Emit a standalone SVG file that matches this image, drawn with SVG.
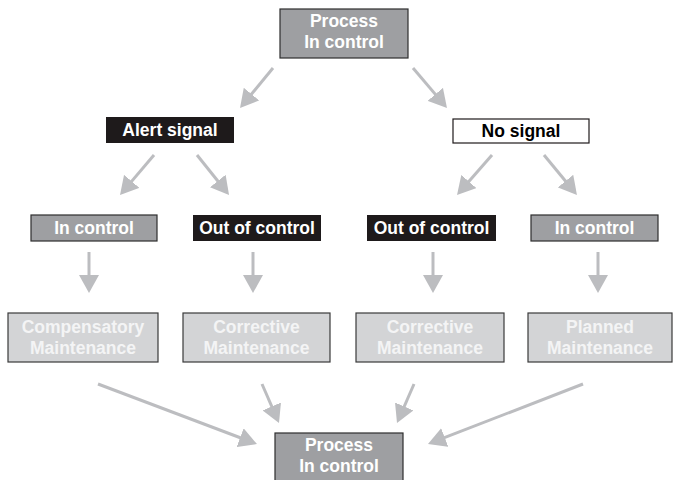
<svg xmlns="http://www.w3.org/2000/svg" width="673" height="480" viewBox="0 0 673 480">
<style>
.t{font-family:"Liberation Sans",Arial,sans-serif;font-weight:bold;font-size:17.5px;text-anchor:middle}
.w{fill:#ffffff}
.k{fill:#000000}
.lw{fill:#f4f4f5}
.dg{fill:#9e9fa2;stroke:#2e2e2e;stroke-width:1.2}
.lg{fill:#d3d4d6;stroke:#3a3a3a;stroke-width:1.2}
.bk{fill:#1e1a1b}
.wb{fill:#ffffff;stroke:#1e1a1b;stroke-width:1.2}
.c line{stroke:#bcbdc0;stroke-width:3;marker-end:url(#ah)}
</style>
<defs>
<marker id="ah" viewBox="0 0 18 20" refX="8" refY="10" markerWidth="18" markerHeight="20" markerUnits="userSpaceOnUse" orient="auto">
<path d="M0,0 L18,10 L0,20 Z" fill="#bcbdc0"/>
</marker>
</defs>
<rect width="673" height="480" fill="#ffffff"/>
<g id="connectors" class="c">
<line x1="273" y1="68" x2="246.4" y2="100.3"/>
<line x1="413" y1="68" x2="440.5" y2="100.4"/>
<line x1="154" y1="155" x2="126.5" y2="187.4"/>
<line x1="197" y1="155" x2="222.8" y2="187.2"/>
<line x1="492" y1="155" x2="463.6" y2="187.5"/>
<line x1="544" y1="155" x2="570.6" y2="187.3"/>
<line x1="89" y1="252" x2="89" y2="283"/>
<line x1="253" y1="252" x2="253" y2="283"/>
<line x1="433" y1="252" x2="433" y2="283"/>
<line x1="598" y1="252" x2="598" y2="283"/>
<line x1="98" y1="384" x2="247.6" y2="440.5"/>
<line x1="262" y1="384" x2="275" y2="413.8"/>
<line x1="414" y1="384" x2="401" y2="413.8"/>
<line x1="583" y1="384" x2="437.3" y2="440.4"/>
</g>
<g id="process-top">
<rect class="dg" x="280" y="9" width="128" height="49"/>
<text class="t w" x="344" y="27">Process</text>
<text class="t w" x="344" y="48">In control</text>
</g>
<g id="alert-signal">
<rect class="bk" x="106" y="117" width="128" height="26"/>
<text class="t w" x="170" y="136">Alert signal</text>
</g>
<g id="no-signal">
<rect class="wb" x="453" y="119" width="136" height="24"/>
<text class="t k" x="521" y="137">No signal</text>
</g>
<g id="in-control-left">
<rect class="dg" x="31" y="215" width="126" height="26"/>
<text class="t w" x="94" y="234">In control</text>
</g>
<g id="out-of-control-left">
<rect class="bk" x="193" y="215" width="128" height="26"/>
<text class="t w" x="257" y="234">Out of control</text>
</g>
<g id="out-of-control-right">
<rect class="bk" x="367" y="215" width="129" height="26"/>
<text class="t w" x="431.5" y="234">Out of control</text>
</g>
<g id="in-control-right">
<rect class="dg" x="531" y="215" width="127" height="26"/>
<text class="t w" x="594.5" y="234">In control</text>
</g>
<g id="compensatory">
<rect class="lg" x="8" y="313" width="150" height="49"/>
<text class="t lw" x="83" y="333">Compensatory</text>
<text class="t lw" x="83" y="354">Maintenance</text>
</g>
<g id="corrective-left">
<rect class="lg" x="183" y="313" width="147" height="49"/>
<text class="t lw" x="256.5" y="333">Corrective</text>
<text class="t lw" x="256.5" y="354">Maintenance</text>
</g>
<g id="corrective-right">
<rect class="lg" x="356" y="313" width="148" height="49"/>
<text class="t lw" x="430" y="333">Corrective</text>
<text class="t lw" x="430" y="354">Maintenance</text>
</g>
<g id="planned">
<rect class="lg" x="528" y="313" width="144" height="49"/>
<text class="t lw" x="600" y="333">Planned</text>
<text class="t lw" x="600" y="354">Maintenance</text>
</g>
<g id="process-bottom">
<rect class="dg" x="275" y="433" width="128" height="50"/>
<text class="t w" x="339" y="451">Process</text>
<text class="t w" x="339" y="472">In control</text>
</g>
</svg>
